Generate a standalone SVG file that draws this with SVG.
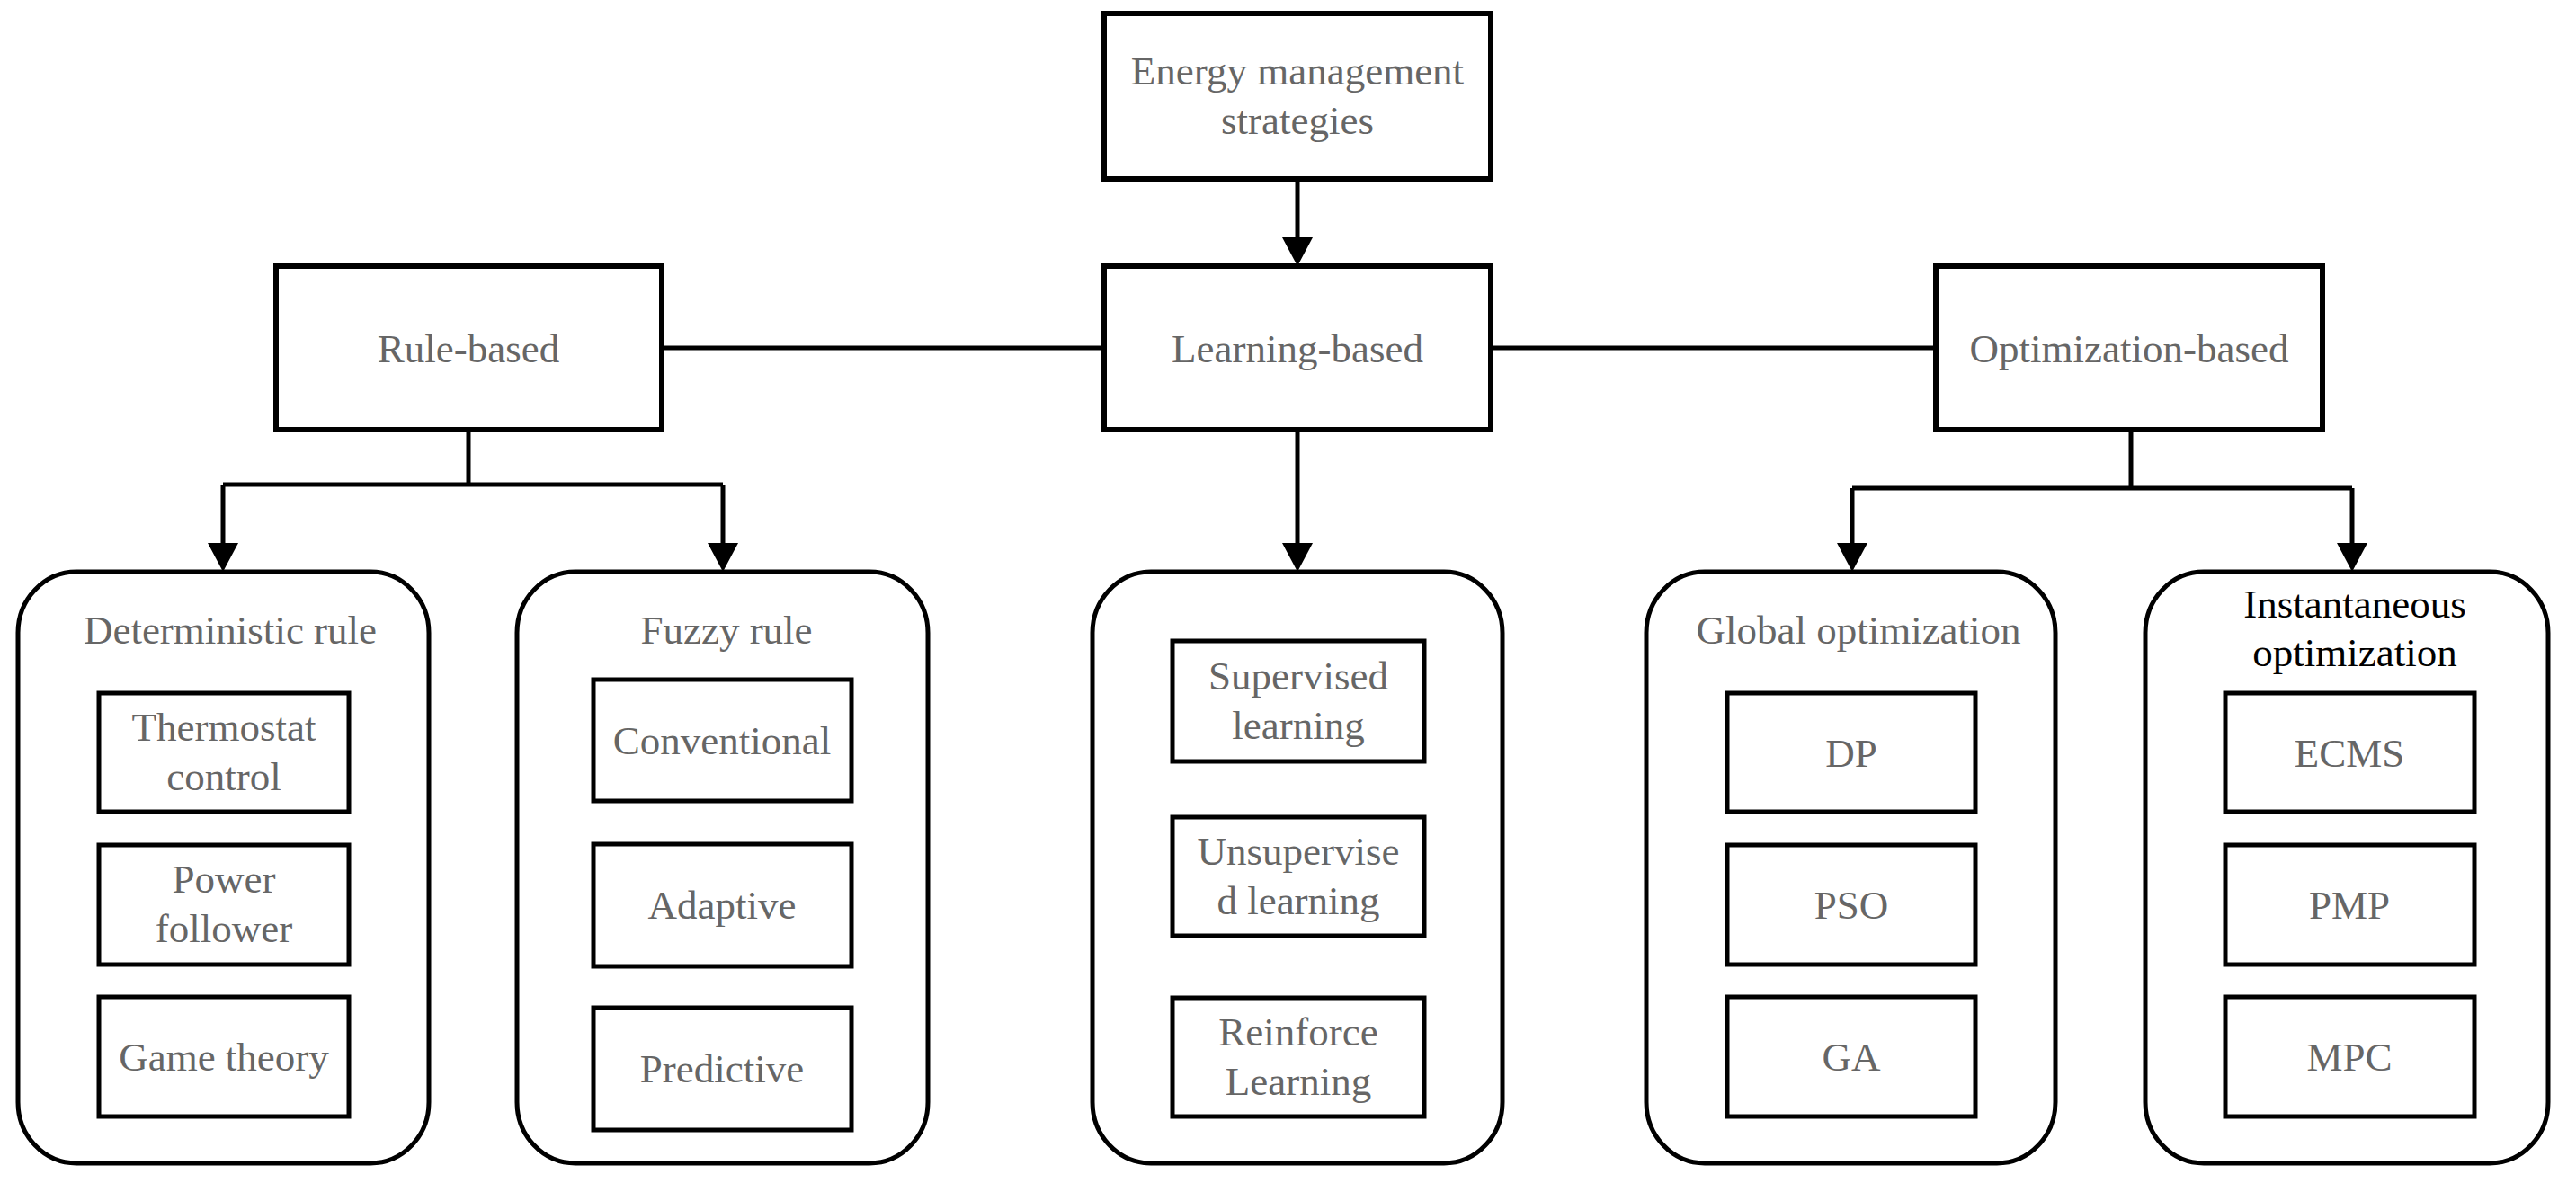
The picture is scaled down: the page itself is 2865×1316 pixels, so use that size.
<svg xmlns="http://www.w3.org/2000/svg" width="2865" height="1316" viewBox="0 0 2865 1316">
<style>
.b{fill:#fff;stroke:#000;stroke-width:6}
.c{fill:#fff;stroke:#000;stroke-width:5}
text{font-family:'Liberation Serif','Times New Roman','DejaVu Serif',serif;font-size:45px;fill:#666;text-anchor:middle}
.l{fill:none;stroke:#000;stroke-width:5}
.h{fill:#000}
</style>
<rect width="2865" height="1316" fill="#fff"/>
<g id="connectors">
<path class="l" d="M1443,199 V266"/><path class="h" d="M1426,264 H1460 L1443,296 Z"/>
<path class="l" d="M736,387 H1228 M1658,387 H2153"/>
<path class="l" d="M521,478 V539 M248,539 H804"/>
<path class="l" d="M248,539 V606"/><path class="h" d="M231,604 H265 L248,636 Z"/>
<path class="l" d="M804,539 V606"/><path class="h" d="M787,604 H821 L804,636 Z"/>
<path class="l" d="M1443,478 V606"/><path class="h" d="M1426,604 H1460 L1443,636 Z"/>
<path class="l" d="M2370,478 V543 M2060,543 H2616"/>
<path class="l" d="M2060,543 V606"/><path class="h" d="M2043,604 H2077 L2060,636 Z"/>
<path class="l" d="M2616,543 V606"/><path class="h" d="M2599,604 H2633 L2616,636 Z"/>
</g>
<g font-family="'Liberation Serif','Times New Roman',serif">
<g id="energy"><rect class="b" x="1228" y="15" width="430" height="184"/><text x="1443" y="94">Energy management</text><text x="1443" y="149">strategies</text></g>
<g id="rule"><rect class="b" x="307" y="296" width="429" height="182"/><text x="521" y="403">Rule-based</text></g>
<g id="learning"><rect class="b" x="1228" y="296" width="430" height="182"/><text x="1443" y="403">Learning-based</text></g>
<g id="optimization"><rect class="b" x="2153" y="296" width="430" height="182"/><text x="2368" y="403">Optimization-based</text></g>

<g id="deterministic"><rect class="c" x="20" y="636" width="457" height="658" rx="65" ry="68"/><text x="256" y="716">Deterministic rule</text></g>
<g id="thermostat"><rect class="c" x="110" y="771" width="278" height="132"/><text x="249" y="824">Thermostat</text><text x="249" y="879">control</text></g>
<g id="power"><rect class="c" x="110" y="940" width="278" height="133"/><text x="249" y="993">Power</text><text x="249" y="1048">follower</text></g>
<g id="game"><rect class="c" x="110" y="1109" width="278" height="133"/><text x="249" y="1191">Game theory</text></g>

<g id="fuzzy"><rect class="c" x="575" y="636" width="457" height="658" rx="65" ry="68"/><text x="808" y="716">Fuzzy rule</text></g>
<g id="conventional"><rect class="c" x="660" y="756" width="287" height="135"/><text x="803" y="839">Conventional</text></g>
<g id="adaptive"><rect class="c" x="660" y="939" width="287" height="136"/><text x="803" y="1022">Adaptive</text></g>
<g id="predictive"><rect class="c" x="660" y="1121" width="287" height="136"/><text x="803" y="1204">Predictive</text></g>

<g id="learningbox"><rect class="c" x="1215" y="636" width="456" height="658" rx="65" ry="68"/></g>
<g id="supervised"><rect class="c" x="1304" y="713" width="280" height="134"/><text x="1444" y="767">Supervised</text><text x="1444" y="822">learning</text></g>
<g id="unsupervised"><rect class="c" x="1304" y="909" width="280" height="132"/><text x="1444" y="962">Unsupervise</text><text x="1444" y="1017">d learning</text></g>
<g id="reinforce"><rect class="c" x="1304" y="1110" width="280" height="132"/><text x="1444" y="1163">Reinforce</text><text x="1444" y="1218">Learning</text></g>

<g id="global"><rect class="c" x="1831" y="636" width="455" height="658" rx="65" ry="68"/><text x="2067" y="716">Global optimization</text></g>
<g id="dp"><rect class="c" x="1921" y="771" width="276" height="132"/><text x="2059" y="853">DP</text></g>
<g id="pso"><rect class="c" x="1921" y="940" width="276" height="133"/><text x="2059" y="1022">PSO</text></g>
<g id="ga"><rect class="c" x="1921" y="1109" width="276" height="133"/><text x="2059" y="1191">GA</text></g>

<g id="instantaneous"><rect class="c" x="2386" y="636" width="448" height="658" rx="65" ry="68"/><text x="2619" y="687" style="fill:#000">Instantaneous</text><text x="2619" y="741" style="fill:#000">optimization</text></g>
<g id="ecms"><rect class="c" x="2475" y="771" width="277" height="132"/><text x="2613" y="853">ECMS</text></g>
<g id="pmp"><rect class="c" x="2475" y="940" width="277" height="133"/><text x="2613" y="1022">PMP</text></g>
<g id="mpc"><rect class="c" x="2475" y="1109" width="277" height="133"/><text x="2613" y="1191">MPC</text></g>
</g>
</svg>
